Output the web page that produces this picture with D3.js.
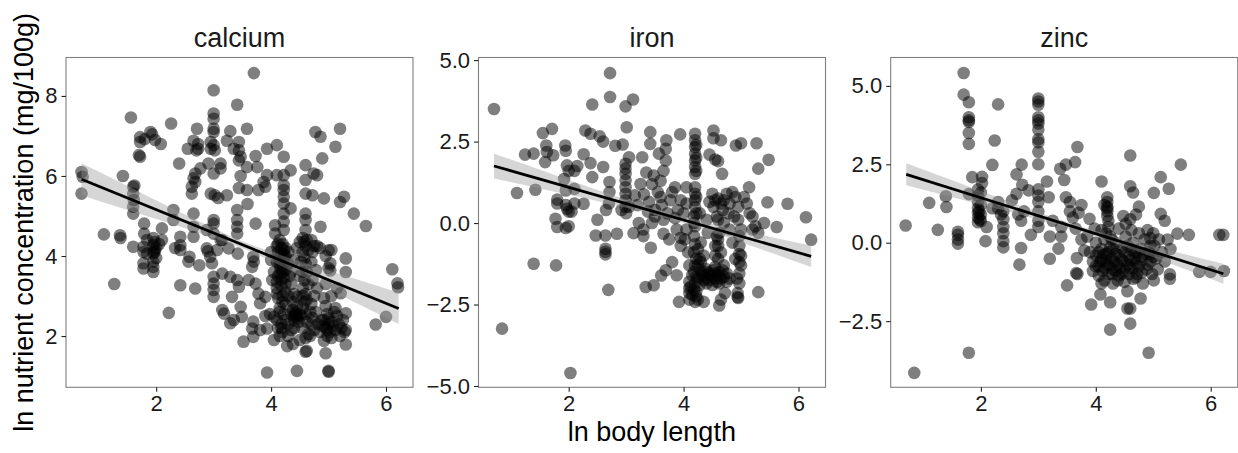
<!DOCTYPE html>
<html>
<head>
<meta charset="utf-8">
<script src="https://cdn.jsdelivr.net/npm/d3@7"></script>
<style>
  html, body { margin: 0; padding: 0; background: #fff; }
  svg { display: block; font-family: "Liberation Sans", Arial, Helvetica, sans-serif; }
</style>
</head>
<body>
<svg id="chart" width="1238" height="453"></svg>
<script>
// ---------------- data ----------------
const facetNames = ["calcium", "iron", "zinc"];
const xTicks = [2, 4, 6];
const calciumTicks = [2, 4, 6, 8];
const ironTicks = [-5, -2.5, 0, 2.5, 5];
const zincTicks = [-2.5, 0, 2.5, 5];
const xTitle = "ln body length";
const yTitle = "ln nutrient concentration (mg/100g)";

const calciumPts = [
[0.70,6.10],[0.72,5.98],[0.70,5.56],
[1.09,4.54],[1.37,4.52],[1.38,4.45],[1.27,3.30],[1.42,6.00],
[1.56,7.46],[1.60,5.73],[1.62,5.76],[1.60,5.56],[1.61,5.40],[1.60,5.23],[1.60,5.06],[1.60,4.23],
[1.72,6.97],[1.72,6.85],[1.70,6.52],[1.72,6.48],[1.80,6.92],[1.90,7.10],[1.93,7.04],[1.98,6.90],[2.08,6.80],
[1.79,4.81],[1.79,4.56],[1.78,4.23],[1.78,4.10],[1.78,3.82],[1.78,3.69],[1.84,4.40],[1.84,4.06],
[1.95,4.45],[1.97,4.35],[1.95,4.27],[1.97,4.15],[1.95,4.06],[2.00,4.20],[2.00,3.95],[1.95,3.86],[1.95,3.73],[1.95,3.60],[1.97,4.10],
[2.10,4.69],[2.10,4.40],[2.05,4.30],
[2.22,2.58],[2.26,7.31],[2.30,5.15],[2.30,4.90],[2.33,4.20],[2.40,6.31],[2.42,4.48],[2.42,4.27],[2.42,4.15],[2.42,3.27],
[2.56,3.86],[2.58,3.98],[2.55,6.68],[2.62,5.56],[2.62,5.73],[2.65,5.94],[2.65,5.06],[2.65,4.73],[2.65,4.48],[2.68,6.06],[2.68,5.85],[2.68,3.19],
[2.65,6.88],[2.71,7.18],[2.73,6.80],[2.73,6.68],[2.70,6.64],[2.75,3.77],[2.77,6.19],
[2.88,4.19],[2.88,4.65],[2.90,4.12],[2.91,6.31],[2.94,3.98],[2.95,6.85],[2.95,6.68],[2.95,5.56],[2.97,3.82],
[3.00,8.14],[3.00,7.56],[3.00,7.43],[3.00,7.18],[3.00,7.10],[3.00,6.77],[3.02,6.64],[3.00,6.06],[3.02,5.52],[3.00,4.90],[3.00,4.81],[3.00,4.56],[3.00,3.48],[3.00,3.31],[3.00,3.15],[3.00,2.98],
[3.06,4.15],[3.08,5.45],[3.12,6.31],[3.12,6.19],[3.12,4.40],[3.15,4.40],[3.15,3.56],[3.15,2.65],[3.18,2.56],
[3.23,6.88],[3.23,5.52],[3.26,4.19],[3.29,7.12],[3.29,3.48],[3.29,2.32],[3.32,2.98],[3.35,6.68],[3.35,2.40],
[3.41,7.78],[3.41,5.15],[3.41,4.90],[3.41,4.73],[3.41,4.56],[3.41,3.40],[3.42,4.06],[3.44,6.85],[3.44,6.64],[3.44,6.39],[3.44,5.70],[3.44,3.23],[3.47,6.48],[3.47,6.00],[3.47,2.73],[3.49,2.48],
[3.52,1.86],[3.58,7.18],[3.58,6.22],[3.58,5.65],[3.59,5.30],[3.61,3.40],
[3.67,3.73],[3.70,3.86],[3.69,3.98],[3.67,2.19],[3.69,2.36],[3.69,1.98],[3.70,8.57],[3.73,6.50],[3.73,4.81],[3.73,3.31],[3.76,6.22],[3.78,5.65],[3.78,3.06],
[3.81,2.82],[3.81,2.15],[3.87,5.85],[3.90,5.73],[3.90,2.98],[3.90,2.50],[3.93,6.68],[3.93,6.02],[3.93,2.19],[3.93,1.09],[3.98,2.55],
[4.00,4.10],[4.00,3.90],[4.02,3.40],[4.05,3.60],[4.05,2.48],[4.05,1.90],[4.07,4.77],[4.07,4.56],
[4.10,6.77],[4.10,6.02],[4.10,4.25],[4.12,4.10],[4.10,3.85],[4.10,3.35],[4.10,3.06],[4.12,2.95],[4.10,2.40],[4.12,2.20],
[4.15,4.40],[4.18,4.05],[4.15,3.55],[4.18,3.25],[4.15,2.70],[4.18,2.30],[4.15,2.00],[4.15,3.90],[4.16,3.70],
[4.20,4.30],[4.22,6.48],[4.22,6.02],[4.22,5.77],[4.22,5.65],[4.22,5.48],[4.22,5.31],[4.22,5.06],[4.22,4.86],[4.22,4.65],[4.22,3.95],[4.20,3.75],[4.22,3.45],[4.20,2.85],[4.22,2.55],[4.20,2.10],[4.22,4.15],
[4.25,4.20],[4.25,3.65],[4.25,3.10],[4.25,4.00],[4.28,1.75],[4.30,4.10],[4.30,3.80],[4.30,2.00],[4.32,3.50],[4.34,6.14],[4.34,5.19],[4.35,3.30],[4.35,2.55],[4.38,2.85],[4.38,1.80],
[4.40,3.05],[4.40,2.50],[4.40,2.20],[4.42,2.60],[4.45,2.98],[4.45,2.45],[4.45,1.13],[4.48,2.35],[4.50,1.90],
[4.55,4.45],[4.55,4.10],[4.55,3.60],[4.55,3.20],[4.55,2.70],[4.55,2.20],[4.58,4.35],[4.58,3.95],[4.58,3.40],[4.58,2.85],
[4.60,6.27],[4.60,5.90],[4.60,5.56],[4.60,5.06],[4.60,4.90],[4.60,4.65],[4.60,4.25],[4.60,3.80],[4.60,3.05],[4.60,2.55],[4.60,1.95],[4.60,1.61],[4.62,1.63],[4.62,2.35],[4.65,2.05],[4.68,2.00],
[4.70,4.40],[4.70,3.85],[4.70,2.80],[4.72,5.52],[4.72,4.10],[4.72,3.40],[4.72,2.45],[4.74,6.06],[4.75,4.25],[4.75,3.00],[4.75,2.15],[4.77,7.10],[4.78,3.65],[4.78,2.60],
[4.80,6.02],[4.80,4.25],[4.80,3.20],[4.82,2.30],[4.85,4.20],[4.86,6.98],[4.86,4.73],[4.88,2.40],[4.89,6.44],
[4.92,5.44],[4.92,2.95],[4.92,2.40],[4.92,1.88],[4.95,4.00],[4.95,3.30],[4.95,2.75],[4.95,2.20],[4.95,1.57],[4.98,2.55],[4.98,2.00],
[5.00,4.14],[5.00,3.70],[5.00,2.45],[5.00,2.30],[5.00,1.11],[5.00,1.13],[5.02,2.10],[5.03,3.82],[5.03,3.64],[5.05,4.15],[5.05,3.00],[5.05,1.95],[5.08,2.25],
[5.10,2.60],[5.12,6.73],[5.12,2.70],[5.15,3.20],[5.15,2.50],[5.18,2.30],[5.20,7.18],[5.20,5.35],[5.20,2.00],[5.21,3.07],[5.22,2.20],[5.25,2.40],[5.27,5.48],[5.28,2.10],
[5.30,3.94],[5.30,3.60],[5.30,2.57],[5.30,2.15],[5.30,1.79],[5.44,5.06],[5.65,4.75],[5.82,2.29],[6.00,2.48],[6.11,3.67],[6.20,3.32],[6.21,3.22],
[4.12,4.30],[4.18,4.20],[4.22,4.05],[4.15,3.80],[4.20,3.60],[4.12,3.50],[4.18,3.40],[4.25,3.30],[4.10,3.20],[4.20,3.00],[4.25,2.80],[4.15,2.60],[4.25,2.40],[4.18,2.20],[4.30,2.30],[4.35,2.15],[4.40,2.40],[4.42,2.55],[4.38,2.65],[4.45,2.75],[4.30,3.00],[4.35,3.60],[4.40,3.90],[4.45,4.20],[4.50,4.35],[4.52,3.85],[4.50,3.50],[4.55,3.00],[4.52,2.50],[4.62,4.40],[4.65,4.15],[4.62,3.60],[4.65,3.30],[4.62,2.90],[4.68,2.60],[4.70,2.30],[4.85,2.10],[4.90,2.25],[5.05,2.35],[5.12,2.15],[4.98,2.15],[4.45,2.50],[4.50,2.55]
];

const ironPts = [
[0.70,3.50],[0.84,-3.24],[1.10,0.92],[1.24,2.10],[1.39,2.13],[1.39,-1.25],[1.42,1.02],
[1.55,2.76],[1.59,1.87],[1.61,2.38],[1.62,2.18],[1.71,2.89],[1.73,2.08],[1.77,0.13],[1.78,-1.30],[1.80,0.72],[1.80,0.60],[1.80,-0.12],
[1.92,1.35],[1.94,2.38],[1.95,2.22],[1.95,1.00],[1.95,0.55],[1.95,-0.15],[1.97,1.77],[1.97,0.44],[2.00,1.60],[2.00,0.35],[2.00,-0.10],[2.03,-4.60],[2.05,0.35],[2.10,1.60],[2.10,1.05],[2.10,0.60],
[2.15,1.75],[2.26,2.11],[2.26,0.59],[2.29,2.84],[2.38,2.74],[2.38,1.84],[2.41,3.64],[2.41,1.41],[2.47,-0.38],[2.50,0.10],
[2.54,2.66],[2.60,2.50],[2.60,1.72],[2.64,-0.38],[2.64,-0.79],[2.64,-0.96],[2.64,-0.88],[2.65,0.40],[2.69,-2.05],[2.70,0.60],[2.71,1.26],[2.71,0.95],[2.72,4.60],[2.72,3.87],
[2.81,2.37],[2.84,-0.33],[2.92,0.40],[2.94,2.41],[2.99,3.58],[2.99,1.82],[2.99,1.67],[2.99,1.51],[2.99,1.31],[2.99,1.10],[2.99,0.90],[2.99,0.70],[2.99,0.49],[3.00,0.30],[3.01,2.94],[3.05,2.02],[3.05,0.50],
[3.12,3.79],[3.13,-0.31],[3.22,0.00],[3.28,2.02],[3.30,-0.20],[3.30,-0.40],[3.31,0.88],[3.34,-1.96],[3.40,0.65],[3.42,2.79],[3.42,2.43],[3.43,-0.76],[3.45,1.20],[3.48,1.46],[3.48,-1.91],[3.50,0.40],
[3.57,2.13],[3.60,0.80],[3.61,-1.61],[3.65,1.60],[3.65,0.10],[3.65,-0.33],[3.69,2.28],[3.69,1.92],[3.69,-1.45],[3.70,2.54],[3.75,-0.50],[3.77,0.70],[3.80,-1.20],[3.85,1.10],[3.88,-1.60],[3.90,0.40],[3.92,-2.42],[3.94,2.72],[3.95,-0.45],[3.95,-0.70],
[3.55,0.95],[3.62,0.55],[3.72,0.30],[3.80,0.95],[3.85,0.15],[3.88,-0.20],[3.95,0.70],[4.00,0.30],[4.02,-0.50],[3.50,0.20],[3.45,0.00],[3.38,0.35],[3.20,0.55],[3.15,0.85],[3.25,1.20],[3.35,1.55],[3.60,1.30],
[4.05,1.10],[4.05,0.60],[4.05,-0.20],[4.08,-0.90],[4.10,-1.30],[4.10,-1.80],[4.10,-2.00],[4.10,-2.15],[4.10,-2.35],
[4.20,2.74],[4.20,2.54],[4.20,2.33],[4.20,2.13],[4.20,1.92],[4.20,1.72],[4.20,1.51],[4.20,1.10],[4.20,0.90],[4.20,0.70],[4.20,0.49],[4.18,0.20],[4.20,-0.10],[4.18,-0.40],[4.20,-0.65],[4.18,-0.90],[4.22,-1.10],[4.20,-1.30],[4.18,-1.50],[4.22,-1.65],[4.20,-1.85],[4.18,-2.05],[4.22,-2.25],[4.20,-2.42],
[4.28,0.30],[4.30,-0.60],[4.30,-1.20],[4.32,-1.55],[4.35,-1.75],[4.35,-2.42],[4.38,-1.40],[4.40,0.10],[4.40,-1.70],[4.42,-0.30],[4.45,2.10],[4.45,-1.55],
[4.52,2.84],[4.52,2.60],[4.50,0.90],[4.52,0.50],[4.55,1.95],[4.55,-1.00],[4.55,-1.35],[4.55,-1.70],[4.58,0.20],[4.58,-0.40],
[4.60,1.90],[4.60,0.75],[4.60,-0.70],[4.60,-1.10],[4.62,-1.50],[4.62,-1.85],[4.62,-2.53],[4.65,2.54],[4.65,-0.90],[4.65,-2.35],[4.67,1.51],[4.68,0.40],[4.70,0.00],[4.70,-1.30],[4.72,-2.15],[4.75,-1.80],
[4.75,0.90],[4.85,0.95],[5.10,0.60],[5.20,0.20],[5.25,-0.10],[4.95,0.50],[4.70,0.70],[4.90,0.80],[4.60,0.10],[4.45,0.65],
[4.78,0.30],[4.80,-0.20],[4.80,0.60],[4.85,-0.60],[4.88,0.20],[4.91,2.38],[4.90,-1.10],[4.94,-2.27],[4.94,-2.15],
[4.95,0.10],[4.97,-0.40],[4.97,-0.70],[4.97,-0.95],[4.97,-1.20],[4.97,-1.55],[4.97,-1.85],[5.00,-0.20],[5.00,2.45],[5.05,0.80],
[5.14,1.10],[5.15,0.30],[5.20,-0.20],[5.27,2.45],[5.30,1.67],[5.30,-0.30],[5.30,-2.12],[5.40,0.00],[5.46,0.64],[5.48,1.94],[5.62,-0.12],[5.81,0.59],[6.13,0.18],[6.22,-0.51],
[4.15,-1.60],[4.25,-1.70],[4.28,-1.90],[4.30,-1.45],[4.35,-1.60],[4.40,-1.85],[4.42,-1.50],[4.45,-1.75],[4.48,-1.60],[4.50,-1.90],[4.52,-1.45],[4.55,-1.55],[4.58,-1.80],[4.60,-1.60],[4.65,-1.70],[4.68,-1.45],[4.70,-1.65],[4.75,-1.55],[4.80,-1.70],[4.25,-1.30],[4.28,-1.10],[4.25,-0.80],[4.35,-1.00],[4.15,-2.20],[4.25,-2.35],[4.12,-1.95],[4.22,-2.10],[4.55,-0.70],[4.60,-0.50],[4.62,-0.30],[4.65,0.60],[4.55,0.70],[4.22,2.40],[4.22,2.00],[4.22,1.60],[4.22,0.80],[4.22,0.30],[4.18,0.00],[4.95,-2.30],[4.93,-1.70],[5.00,-1.30],[5.00,-1.00]
];

const zincPts = [
[0.69,0.55],[0.84,-4.15],[1.10,1.27],[1.25,0.41],[1.39,1.48],[1.40,1.14],
[1.60,-0.03],[1.60,0.10],[1.60,0.25],[1.60,0.35],[1.70,5.41],[1.70,4.72],[1.79,4.48],[1.79,4.00],[1.79,3.90],[1.79,3.85],[1.79,3.50],[1.79,3.15],[1.79,1.55],[1.79,-3.51],[1.85,2.09],
[1.95,1.70],[1.95,1.50],[1.95,1.30],[1.95,1.10],[1.95,0.95],[1.95,0.80],[1.95,0.65],[2.00,1.60],[2.00,1.20],[2.00,0.90],[2.00,0.70],[2.02,2.10],[2.02,1.90],[1.97,1.00],[1.98,0.75],
[2.08,0.05],[2.10,0.50],[2.20,2.48],[2.20,1.10],[2.24,3.26],[2.30,4.41],[2.30,1.30],[2.30,1.10],[2.35,0.90],
[2.39,-0.15],[2.39,0.05],[2.39,0.30],[2.39,0.50],[2.39,0.75],[2.39,1.00],
[2.54,1.35],[2.62,1.56],[2.62,2.18],[2.65,0.90],[2.67,-0.70],[2.70,-0.17],[2.70,0.70],[2.71,2.49],[2.72,1.85],[2.75,1.00],[2.83,1.67],[2.87,0.25],
[3.00,4.60],[3.00,4.50],[3.00,4.40],[3.00,4.00],[3.00,3.90],[3.00,3.80],[3.00,3.60],[3.00,3.30],[3.00,3.20],[3.00,2.90],[3.00,2.50],[3.00,1.70],[3.00,1.50],[3.00,1.30],[3.00,1.00],[3.00,0.70],[3.00,0.50],
[3.15,1.95],[3.18,1.45],[3.20,-0.51],[3.20,0.20],[3.25,0.70],[3.35,-0.19],[3.38,2.36],[3.40,0.20],[3.40,0.50],[3.45,2.00],[3.48,2.49],[3.48,1.45],[3.50,-1.36],
[3.55,1.30],[3.55,1.00],[3.60,0.80],[3.64,2.57],[3.65,0.45],[3.66,-0.97],[3.68,3.05],[3.68,-1.00],[3.67,-0.49],[3.70,0.95],[3.75,1.20],[3.75,0.10],[3.80,-0.25],[3.89,0.76],[3.92,-1.97],
[4.08,-1.65],[4.10,1.95],[4.20,1.45],[4.20,1.30],[4.20,1.15],[4.20,1.00],[4.20,0.85],[4.25,-2.77],[4.25,-1.90],
[4.55,-1.55],[4.55,-2.10],[4.60,-2.10],[4.60,-2.58],[4.60,2.78],[4.60,1.80],[4.65,1.60],[4.70,0.90],[4.75,1.15],[4.78,-1.78],[4.92,-3.51],
[5.01,1.59],[5.01,-1.20],[5.13,2.09],[5.13,0.92],[5.20,0.70],[5.27,1.72],[5.29,-1.01],[5.29,-1.15],[5.42,0.29],[5.48,2.49],[5.62,0.25],[5.80,-0.93],[6.00,-0.93],[6.15,0.25],[6.22,0.25],[6.23,-0.90],
[3.90,-0.30],[3.95,-0.60],[3.95,-0.90],[4.00,0.00],[4.00,-0.40],[4.05,-0.75],[4.05,-1.05],[4.10,0.40],[4.10,-0.20],[4.10,-0.55],[4.12,-0.90],[4.15,-1.20],[4.15,0.10],[4.18,-0.35],[4.20,-0.70],[4.22,0.50],[4.22,-1.00],[4.25,0.20],[4.25,-0.15],[4.28,-0.50],[4.30,-0.85],[4.30,-1.30],[4.35,0.00],[4.35,-0.35],[4.38,-0.70],[4.40,-1.05],[4.40,0.45],[4.45,-0.20],[4.45,-0.55],[4.50,-0.90],[4.50,-1.25],[4.52,0.60],[4.52,0.20],[4.55,-0.10],[4.58,-0.45],[4.60,-0.80],[4.62,0.40],[4.65,-1.15],[4.65,0.00],[4.68,-0.30],[4.70,-0.65],[4.72,-1.00],[4.75,0.30],[4.78,-0.20],[4.80,-0.55],[4.82,-1.30],[4.85,0.10],[4.88,-0.85],[4.90,0.40],[4.92,-0.30],[4.95,-0.60],[4.95,0.15],[4.98,-1.00],[5.00,0.30],[5.02,-0.10],[5.05,-0.50],[5.08,-0.85],[5.10,0.10],[5.15,-0.30],[5.20,-0.60],[5.25,0.10],[5.30,-0.20],[3.85,0.20],[3.98,0.45],[4.48,0.85],[4.60,0.75],
[4.05,-0.30],[4.08,-0.60],[4.12,-0.40],[4.15,-0.80],[4.18,-0.55],[4.22,-0.30],[4.25,-0.70],[4.28,-1.00],[4.30,-0.20],[4.32,-0.60],[4.35,-0.90],[4.38,-1.20],[4.40,-0.40],[4.42,-0.80],[4.45,-1.00],[4.48,-0.60],[4.50,-0.30],[4.55,-0.70],[4.58,-1.00],[4.60,-0.55],[4.62,-0.20],[4.65,-0.80],[4.68,-0.50],[4.70,-1.10],[4.72,-0.30],[4.75,-0.75],[4.78,-0.45],[4.80,-0.95],[4.85,-0.35],[4.90,-0.70],[4.95,-0.35],[4.18,0.30],[4.22,0.70],[4.28,0.10],[4.95,-0.10],[5.00,-0.45],[4.15,1.20],[4.20,1.10],[4.00,-0.75],[4.10,-1.30]
];

// fitted regression lines (end points) and 95% CI half-widths
const fitX = [0.70, 6.22];
const calciumFitY = [5.92, 2.69];
const ironFitY = [1.75, -1.02];
const zincFitY = [2.18, -0.99];
const bandX = [0.70, 1.5, 2.5, 3.5, 4.5, 5.5, 6.22];
const calciumBand = [0.40, 0.30, 0.17, 0.09, 0.17, 0.30, 0.39];
const ironBand = [0.38, 0.29, 0.17, 0.10, 0.13, 0.24, 0.33];
const zincBand = [0.35, 0.27, 0.16, 0.09, 0.12, 0.23, 0.32];

// ---------------- layout ----------------
const xDomain = [0.43, 6.47];
const yDomains = [[0.72, 8.96], [-5.04, 5.08], [-4.61, 5.905]];
const panelLefts = [66, 478.5, 890.7];
const panelW = 347;
const panelTop = 57.5, panelBottom = 387.3;

const facets = [
  { name: facetNames[0], pts: calciumPts, fitY: calciumFitY, band: calciumBand, ticks: calciumTicks, fmt: d3.format("d") },
  { name: facetNames[1], pts: ironPts, fitY: ironFitY, band: ironBand, ticks: ironTicks, fmt: d3.format(".1f") },
  { name: facetNames[2], pts: zincPts, fitY: zincFitY, band: zincBand, ticks: zincTicks, fmt: d3.format(".1f") }
];

const svg = d3.select("#chart");
const defs = svg.append("defs");

facets.forEach((f, i) => {
  const left = panelLefts[i];
  const x = d3.scaleLinear().domain(xDomain).range([left, left + panelW]);
  const y = d3.scaleLinear().domain(yDomains[i]).range([panelBottom, panelTop]);
  const g = svg.append("g");

  defs.append("clipPath").attr("id", "clip" + i)
    .append("rect").attr("x", left).attr("y", panelTop)
    .attr("width", panelW).attr("height", panelBottom - panelTop);

  const inner = g.append("g").attr("clip-path", `url(#clip${i})`);

  // points
  inner.selectAll("circle").data(f.pts).join("circle")
    .attr("cx", d => x(d[0])).attr("cy", d => y(d[1]))
    .attr("r", 6.3)
    .attr("fill", "#000").attr("fill-opacity", 0.5);

  // CI band
  const fit = d3.scaleLinear().domain(fitX).range(f.fitY);
  const bandData = bandX.map((bx, k) => ({ x: bx, lo: fit(bx) - f.band[k], hi: fit(bx) + f.band[k] }));
  inner.append("path").datum(bandData)
    .attr("d", d3.area().x(d => x(d.x)).y0(d => y(d.lo)).y1(d => y(d.hi)).curve(d3.curveMonotoneX))
    .attr("fill", "#999999").attr("fill-opacity", 0.4);

  // fit line
  inner.append("path").datum(fitX.map((fx, k) => [fx, f.fitY[k]]))
    .attr("d", d3.line().x(d => x(d[0])).y(d => y(d[1])))
    .attr("fill", "none").attr("stroke", "#000").attr("stroke-width", 2.8);

  // panel border
  g.append("rect").attr("x", left).attr("y", panelTop)
    .attr("width", panelW).attr("height", panelBottom - panelTop)
    .attr("fill", "none").attr("stroke", "#7f7f7f").attr("stroke-width", 1.1);

  // x axis
  const xa = g.append("g").attr("transform", `translate(0,${panelBottom})`)
    .call(d3.axisBottom(x).tickValues(xTicks).tickSize(4.5).tickPadding(4).tickFormat(d3.format("d")));
  xa.select(".domain").remove();
  xa.selectAll("line").attr("stroke", "#222").attr("stroke-width", 1.1);
  xa.selectAll("text").attr("font-size", 22).attr("fill", "#1a1a1a").attr("font-family", null);

  // y axis
  const ya = g.append("g").attr("transform", `translate(${left},0)`)
    .call(d3.axisLeft(y).tickValues(f.ticks).tickSize(4.5).tickPadding(4).tickFormat(f.fmt));
  ya.select(".domain").remove();
  ya.selectAll("line").attr("stroke", "#222").attr("stroke-width", 1.1);
  ya.selectAll("text").attr("font-size", 22).attr("fill", "#1a1a1a").attr("font-family", null);

  // strip title
  g.append("text").attr("x", left + panelW / 2).attr("y", 46.5)
    .attr("text-anchor", "middle").attr("font-size", 27).attr("fill", "#1a1a1a")
    .text(f.name);
});

// axis titles
svg.append("text").attr("x", (panelLefts[0] + panelLefts[2] + panelW) / 2).attr("y", 441)
  .attr("text-anchor", "middle").attr("font-size", 27).attr("fill", "#000").text(xTitle);
svg.append("text")
  .attr("transform", `translate(33,${(panelTop + panelBottom) / 2}) rotate(-90)`)
  .attr("text-anchor", "middle").attr("font-size", 27).attr("fill", "#000").text(yTitle);
</script>
</body>
</html>
